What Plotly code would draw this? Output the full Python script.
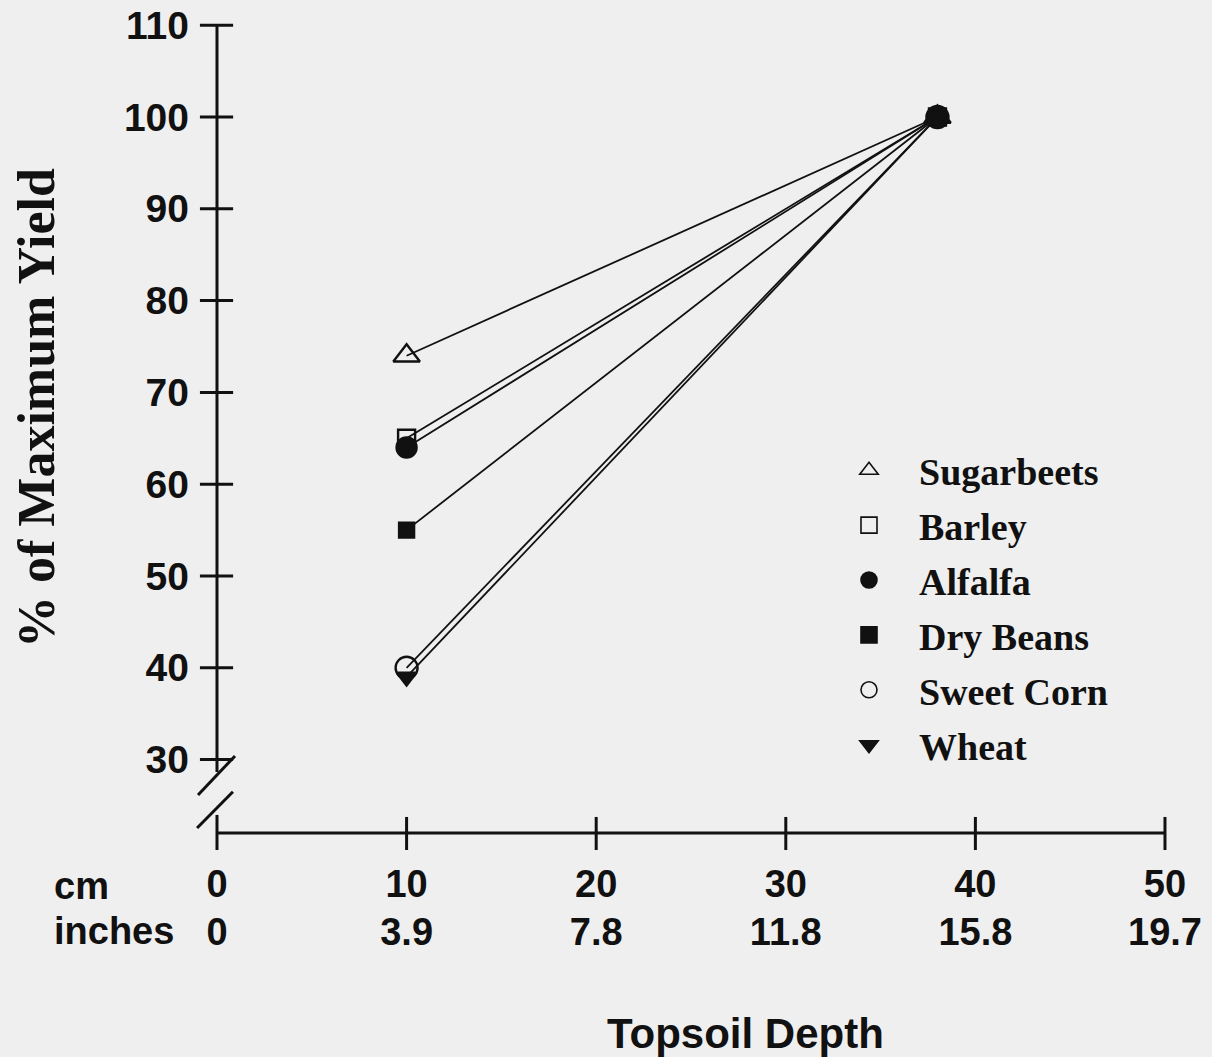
import plotly.graph_objects as go

# ---- data ----
crops = ["Sugarbeets", "Barley", "Alfalfa", "Dry Beans", "Sweet Corn", "Wheat"]
depth_cm = [10, 38]
yield_at_10cm = [74, 65, 64, 55, 40, 39]
yield_at_38cm = [100, 100, 100, 100, 100, 100]
symbols = ["triangle-up-open", "square-open", "circle", "square", "circle-open", "triangle-down"]
marker_sizes = [23, 17, 20, 15, 22, 17]

y_ticks = [30, 40, 50, 60, 70, 80, 90, 100, 110]
x_ticks_cm = [0, 10, 20, 30, 40, 50]
x_ticks_in = ["0", "3.9", "7.8", "11.8", "15.8", "19.7"]

SANS = "Liberation Sans, Arial, sans-serif"
SERIF = "Liberation Serif, Times New Roman, serif"
INK = "#111111"
BG = "#efefef"

W, H = 1212, 1057
XR = [-11.445, 52.48]
YR = [-2.4, 112.75]

fig = go.Figure()

# draw open-marker series first, filled last so the common end point looks solid
order = [0, 1, 4, 2, 3, 5]
for i in order:
    fig.add_trace(go.Scatter(
        x=depth_cm, y=[yield_at_10cm[i], yield_at_38cm[i]],
        mode="lines+markers",
        line=dict(color=INK, width=1.8),
        marker=dict(symbol=symbols[i], size=marker_sizes[i], color=INK,
                    line=dict(color=INK, width=2.4)),
        showlegend=False, cliponaxis=False, name=crops[i]))

# legend entries (markers only)
for i, c in enumerate(crops):
    fig.add_trace(go.Scatter(
        x=[None], y=[None], mode="markers", name=c,
        legendgroup=c,
        marker=dict(symbol=symbols[i], size=16, color=INK,
                    line=dict(color=INK, width=1.6)),
        showlegend=True))

shapes = []
ax = dict(color=INK, width=3)
# y axis (broken)
shapes.append(dict(type="line", xref="x", yref="y", x0=0, x1=0, y0=110, y1=28.65, line=ax))
shapes.append(dict(type="line", xref="x", yref="y", x0=0, x1=0, y0=23.97, y1=20.15, line=ax))
# break slashes
shapes.append(dict(type="line", xref="x", yref="y", x0=-1.0, x1=0.95, y0=26.14, y1=30.4, line=ax))
shapes.append(dict(type="line", xref="x", yref="y", x0=-1.05, x1=0.84, y0=22.55, y1=26.5, line=ax))
# x axis
shapes.append(dict(type="line", xref="x", yref="y", x0=0, x1=50, y0=22, y1=22, line=ax))
for v in y_ticks:
    shapes.append(dict(type="line", xref="x", yref="y", x0=-0.9, x1=0.85, y0=v, y1=v, line=ax))
for v in x_ticks_cm[1:]:
    shapes.append(dict(type="line", xref="x", yref="y", x0=v, x1=v, y0=23.75, y1=20.15, line=ax))

sans_b = dict(family=SANS, size=38, color=INK, weight="bold")
ytick_font = dict(family=SANS, size=39, color=INK, weight="bold")
annotations = [
    dict(text="cm", xref="paper", yref="paper", x=52 / W, y=1 - 886 / H,
         xanchor="left", yanchor="middle", showarrow=False, font=sans_b),
    dict(text="inches", xref="paper", yref="paper", x=52 / W, y=1 - 931 / H,
         xanchor="left", yanchor="middle", showarrow=False, font=sans_b),
    dict(text="Topsoil Depth", xref="x", yref="paper", x=27.9, y=1 - 1033 / H,
         xanchor="center", yanchor="middle", showarrow=False,
         font=dict(family=SANS, size=42, color=INK, weight="bold")),
    dict(text="% of Maximum Yield", xref="paper", yref="paper", x=36 / W, y=1 - 408 / H,
         xanchor="center", yanchor="middle", textangle=-90, showarrow=False,
         font=dict(family=SERIF, size=52, color=INK, weight="bold")),
]

fig.update_layout(
    width=W, height=H,
    margin=dict(l=0, r=0, t=0, b=0),
    paper_bgcolor=BG, plot_bgcolor=BG,
    shapes=shapes, annotations=annotations,
    xaxis=dict(range=XR, showgrid=False, zeroline=False, showline=False,
               tickmode="array", tickvals=x_ticks_cm,
               ticktext=[str(v) for v in x_ticks_cm],
               ticks="", anchor="free", position=1 - 836 / H,
               ticklabelstandoff=22, tickfont=sans_b),
    xaxis2=dict(range=XR, overlaying="x", showgrid=False, zeroline=False, showline=False,
                tickmode="array", tickvals=x_ticks_cm, ticktext=x_ticks_in,
                ticks="", anchor="free", position=1 - 884 / H, side="bottom",
                ticklabelstandoff=22, tickfont=sans_b),
    yaxis=dict(range=YR, showgrid=False, zeroline=False, showline=False,
               tickmode="array", tickvals=y_ticks,
               ticks="", anchor="free", position=217 / W,
               ticklabelstandoff=28, tickfont=ytick_font),
    legend=dict(x=819 / W, y=1 - 439 / H, xanchor="left", yanchor="top",
                bgcolor="rgba(0,0,0,0)", traceorder="grouped", tracegroupgap=2.5,
                itemwidth=90, itemclick=False,
                font=dict(family=SERIF, size=38, color=INK, weight="bold")),
)
# make the inches axis show ticks (needs a trace on it)
fig.add_trace(go.Scatter(x=[None], y=[None], xaxis="x2", showlegend=False, hoverinfo="skip"))

fig.write_html("out.html", config={"displayModeBar": False},
               post_script="document.body.style.margin='0px';")
